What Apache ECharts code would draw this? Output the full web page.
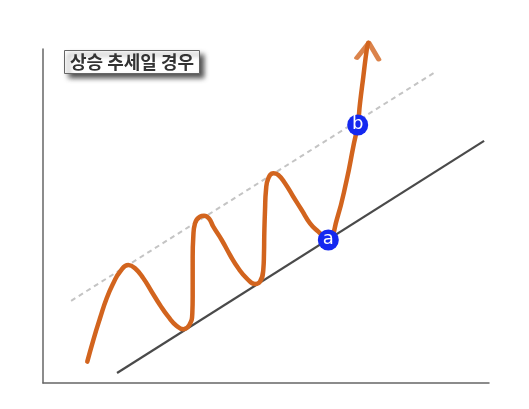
<!DOCTYPE html>
<html>
<head>
<meta charset="utf-8">
<script src="https://cdn.jsdelivr.net/npm/echarts@6/dist/echarts.min.js"></script>
<style>
html,body{margin:0;padding:0;background:#fff;}
#chart{width:529px;height:409px;}
</style>
</head>
<body>
<div id="chart"></div>
<script>
// Price path (arbitrary 0-100 scale)
const priceX = [9.93,11.28,12.78,14.28,15.76,17.26,19.13,20.63,22.49,24.37,26.23,28.09,29.98,31.46,32.80,33.48,33.56,33.56,33.56,33.70,34.08,35.20,36.10,37.22,38.18,40.07,41.93,43.79,45.67,47.53,48.65,49.39,49.55,49.62,49.78,50.00,50.52,51.64,52.76,54.26,56.12,58.00,59.87,61.73,63.97,65.85,68.09,69.57,70.56,71.08,71.82,72.58,72.94];
const priceY = [6.38,12.87,19.37,25.36,29.85,33.32,35.33,34.34,31.35,27.34,23.35,19.85,17.07,16.08,17.37,20.87,25.84,31.83,37.81,43.80,47.81,49.79,50.06,49.25,46.80,42.81,38.32,34.34,31.35,29.64,30.33,33.83,38.83,44.82,51.80,57.78,61.29,62.78,62.28,59.79,55.78,51.80,47.81,45.30,42.81,48.80,60.78,70.75,77.25,83.74,91.71,99.70,101.89];
// Trend lines
const supportX = [16.6, 98.9];
const supportY = [3.0, 72.5];
const channelX = [6.3, 88.3];
const channelY = [24.6, 93.4];
// Labelled points
const pointNames = ['a', 'b'];
const pointX = [63.97, 70.56];
const pointY = [42.81, 77.25];
const titleText = '상승 추세일 경우';

const ORANGE = '#d2641e';
const zip = (xs, ys) => xs.map((x, i) => [x, ys[i]]);

const chart = echarts.init(document.getElementById('chart'), null, {renderer: 'canvas'});
chart.setOption({
  animation: false,
  backgroundColor: '#fff',
  title: {
    text: titleText,
    left: 64, top: 50,
    padding: [3, 6],
    backgroundColor: '#fff',
    borderColor: '#666',
    borderWidth: 1,
    shadowColor: 'rgba(0,0,0,0.7)',
    shadowBlur: 5,
    shadowOffsetX: 4,
    shadowOffsetY: 4,
    textStyle: {
      fontFamily: 'Noto Sans CJK KR',
      fontWeight: 'bold',
      fontSize: 18,
      color: '#333',
      lineHeight: 18
    }
  },
  grid: {left: 43, right: 40, top: 49, bottom: 26},
  xAxis: {
    type: 'value', min: 0, max: 100,
    axisLine: {show: true, onZero: false, lineStyle: {color: '#666', width: 1.5}},
    axisTick: {show: false}, axisLabel: {show: false}, splitLine: {show: false}
  },
  yAxis: {
    type: 'value', min: 0, max: 100,
    axisLine: {show: true, onZero: false, lineStyle: {color: '#666', width: 1.5}},
    axisTick: {show: false}, axisLabel: {show: false}, splitLine: {show: false}
  },
  series: [
    {
      type: 'line', data: zip(channelX, channelY), showSymbol: false, symbol: 'none',
      lineStyle: {color: '#c4c4c4', width: 2, type: [5, 4]}, z: 1
    },
    {
      type: 'line', data: zip(supportX, supportY), showSymbol: false, symbol: 'none',
      lineStyle: {color: '#4a4a4a', width: 2.2}, z: 2
    },
    {
      type: 'line', data: zip(priceX, priceY), showSymbol: false, symbol: 'none',
      smooth: 0.5, clip: false,
      lineStyle: {color: ORANGE, width: 4.5, cap: 'round', join: 'round'}, z: 3
    },
    {
      type: 'scatter', clip: false, z: 4,
      data: [[priceX[priceX.length - 1], priceY[priceY.length - 1]]],
      symbol: 'path://M0,16 L11,0 L22,16',
      symbolSize: [22, 16],
      symbolOffset: [0, 8],
      symbolRotate: -4,
      itemStyle: {color: 'none', borderColor: ORANGE, borderWidth: 4.5, borderCap: 'round', borderJoin: 'round'}
    },
    {
      type: 'scatter', z: 5, clip: false,
      data: pointNames.map((n, i) => ({name: n, value: [pointX[i], pointY[i]]})),
      symbol: 'circle', symbolSize: 21,
      itemStyle: {color: '#1428f0', opacity: 1},
      label: {
        show: true, position: 'inside', formatter: '{b}',
        color: '#fff', fontSize: 18, fontFamily: 'DejaVu Sans', offset: [0, -1]
      }
    }
  ]
});
</script>
</body>
</html>
